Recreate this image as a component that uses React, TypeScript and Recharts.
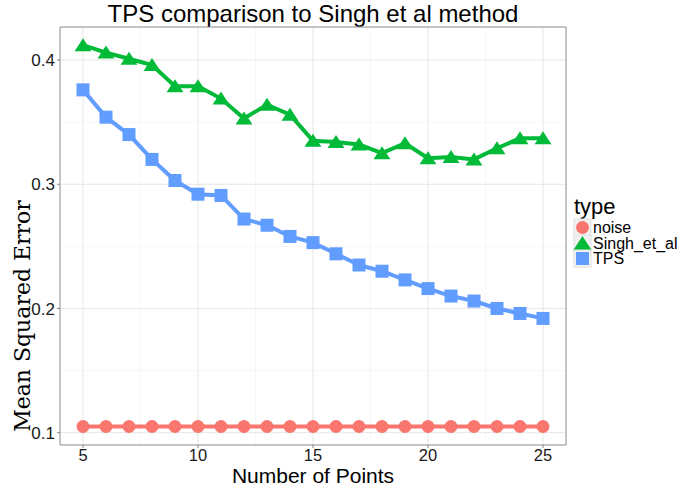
import {
  CartesianGrid,
  Line,
  LineChart,
  ReferenceArea,
  XAxis,
  YAxis,
} from "recharts";

// number of points on the x axis
const points = [5, 6, 7, 8, 9, 10, 11, 12, 13, 14, 15, 16, 17, 18, 19, 20, 21, 22, 23, 24, 25];

// mean squared error per method
const noiseValues = [
  0.105, 0.105, 0.105, 0.105, 0.105, 0.105, 0.105, 0.105, 0.105, 0.105, 0.105,
  0.105, 0.105, 0.105, 0.105, 0.105, 0.105, 0.105, 0.105, 0.105, 0.105,
];
const singhValues = [
  0.412, 0.406, 0.401, 0.396, 0.379, 0.379, 0.369, 0.353, 0.364, 0.356, 0.335,
  0.334, 0.332, 0.325, 0.333, 0.321, 0.322, 0.32, 0.329, 0.337, 0.337,
];
const tpsValues = [
  0.376, 0.354, 0.34, 0.32, 0.303, 0.292, 0.291, 0.272, 0.267, 0.258, 0.253,
  0.244, 0.235, 0.23, 0.223, 0.216, 0.21, 0.206, 0.2, 0.196, 0.192,
];

const xTicks = [5, 10, 15, 20, 25];
const xMinor = [7.5, 12.5, 17.5, 22.5];
const yTicks = [0.1, 0.2, 0.3, 0.4];
const yMinor = [0.15, 0.25, 0.35];

const series = [
  { key: "noise", name: "noise", color: "#F8766D", shape: "circle" },
  { key: "singh", name: "Singh_et_al", color: "#00BA38", shape: "triangle" },
  { key: "tps", name: "TPS", color: "#619CFF", shape: "square" },
];

const data = points.map((n, i) => ({
  n,
  noise: noiseValues[i],
  singh: singhValues[i],
  tps: tpsValues[i],
}));

const X_DOMAIN = [4, 26];
const Y_DOMAIN = [0.0901, 0.4266];
const SANS = "'Liberation Sans', Arial, sans-serif";

// draws one marker in ggplot style
const Marker = ({ cx, cy, shape, color, size = 13 }: any) => {
  if (cx == null || cy == null) return null;
  const h = size / 2;
  if (shape === "circle") return <circle cx={cx} cy={cy} r={h} fill={color} />;
  if (shape === "square")
    return <rect x={cx - h} y={cy - h} width={size} height={size} fill={color} />;
  const w = size * 0.62;
  return (
    <polygon
      points={`${cx},${cy - h - 1} ${cx - w - 1},${cy + h} ${cx + w + 1},${cy + h}`}
      fill={color}
    />
  );
};

const LegendBox = () => (
  <div
    style={{
      position: "absolute",
      left: 574,
      top: 195,
      fontFamily: SANS,
      color: "#000",
    }}
  >
    <div style={{ fontSize: 22, lineHeight: "24px", marginBottom: 1 }}>type</div>
    {series.map((s) => (
      <div key={s.key} style={{ display: "flex", alignItems: "center", height: 15.5 }}>
        <svg width={17} height={15} style={{ overflow: "visible" }}>
          <rect x={0} y={-1} width={17} height={17} fill="#f2f2f2" stroke="#e0e0e0" />
          <Marker cx={8.5} cy={7.5} shape={s.shape} color={s.color} size={13} />
        </svg>
        <span style={{ fontSize: 16, marginLeft: 2, lineHeight: "15px" }}>{s.name}</span>
      </div>
    ))}
  </div>
);

export default function App() {
  return (
    <div style={{ position: "absolute", left: 0, top: 0, width: 689, height: 487, background: "#fff" }}>
      {/* Title */}
      <div
        style={{
          position: "absolute",
          left: 0,
          width: 626,
          top: 0,
          textAlign: "center",
          fontFamily: SANS,
          fontSize: 24,
          lineHeight: "28px",
          color: "#000",
        }}
      >
        TPS comparison to Singh et al method
      </div>
      <LineChart
        width={689}
        height={487}
        data={data}
        margin={{ top: 27, right: 123, bottom: 0, left: 0 }}
      >
        <CartesianGrid
          horizontalValues={yMinor}
          verticalValues={xMinor}
          stroke="#f2f2f2"
          strokeWidth={0.6}
        />
        <CartesianGrid
          horizontalValues={yTicks}
          verticalValues={xTicks}
          stroke="#e6e6e6"
          strokeWidth={1}
        />
        <XAxis
          type="number"
          dataKey="n"
          domain={X_DOMAIN}
          ticks={xTicks}
          allowDataOverflow
          height={42}
          tickSize={3}
          tickMargin={1}
          tickLine={{ stroke: "#888" }}
          axisLine={false}
          tick={{ fill: "#1a1a1a", fontSize: 16.5, fontFamily: SANS }}
          label={{
            content: () => (
              <text x={313} y={483} textAnchor="middle" fontSize={21} fontFamily={SANS} fill="#000">
                Number of Points
              </text>
            ),
          }}
        />
        <YAxis
          type="number"
          domain={Y_DOMAIN}
          ticks={yTicks}
          allowDataOverflow
          width={60}
          tickSize={3}
          tickLine={{ stroke: "#888" }}
          axisLine={false}
          tickFormatter={(v: number) => v.toFixed(1)}
          tick={{ fill: "#1a1a1a", fontSize: 17, fontFamily: SANS }}
          label={{
            content: () => (
              <text
                x={22}
                y={316}
                transform="rotate(-90 22 316)"
                textAnchor="middle"
                dominantBaseline="central"
                fontSize={22}
                fontFamily="'DejaVu Serif', serif"
                fill="#000"
              >
                Mean Squared Error
              </text>
            ),
          }}
        />
        <ReferenceArea
          x1={X_DOMAIN[0]}
          x2={X_DOMAIN[1]}
          y1={Y_DOMAIN[0]}
          y2={Y_DOMAIN[1]}
          fill="none"
          stroke="#8c8c8c"
          strokeWidth={1}
          ifOverflow="visible"
        />
        {series.map((s) => (
          <Line
            key={s.key}
            dataKey={s.key}
            name={s.name}
            stroke={s.color}
            strokeWidth={4}
            isAnimationActive={false}
            dot={(p: any) => (
              <Marker
                key={`${s.key}-${p.index}`}
                cx={p.cx}
                cy={p.cy}
                shape={s.shape}
                color={s.color}
                size={s.shape === "triangle" ? 12 : 13}
              />
            )}
            activeDot={false}
          />
        ))}
      </LineChart>
      <LegendBox />
    </div>
  );
}
